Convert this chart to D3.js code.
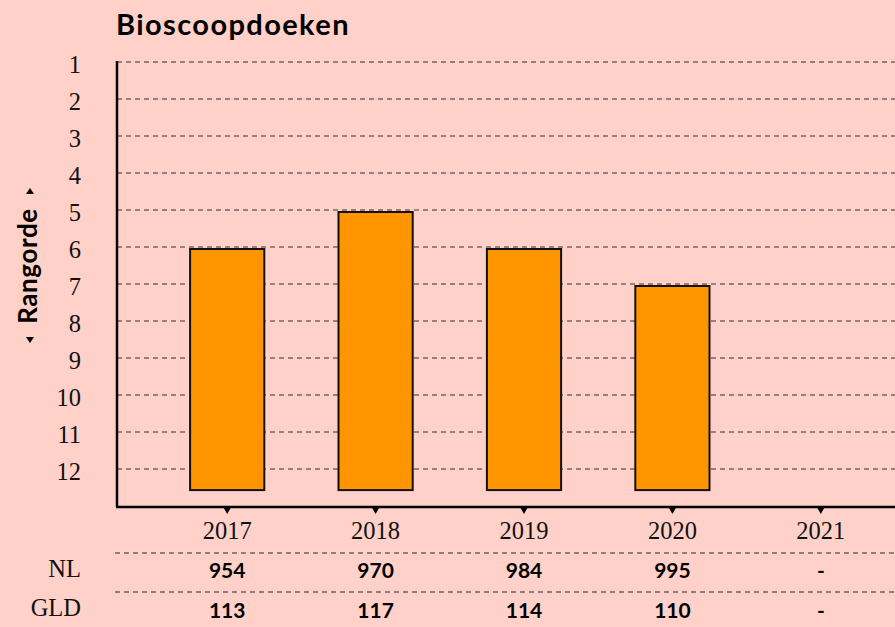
<!DOCTYPE html>
<meta charset="utf-8">
<html>
<head>
<script src="https://d3js.org/d3.v7.min.js"></script>
<style>
  body { margin: 0; background: #ffd1c8; }
  .serif { font-family: "Liberation Serif", "DejaVu Serif", serif; fill: #111; }
  .bold { font-family: Lato, "Noto Sans", sans-serif; font-weight: 700; fill: #000; }
</style>
</head>
<body>
<div id="chart"></div>
<script>
// data
const years = ["2017", "2018", "2019", "2020", "2021"];
const ranks = [6, 5, 6, 7, null];
const rankTicks = [1, 2, 3, 4, 5, 6, 7, 8, 9, 10, 11, 12];
const rowLabels = ["NL", "GLD"];
const nlValues = ["954", "970", "984", "995", "-"];
const gldValues = ["113", "117", "114", "110", "-"];

const W = 895, H = 627;
const svg = d3.select("#chart").append("svg")
  .attr("width", W).attr("height", H);

svg.append("rect").attr("width", W).attr("height", H).attr("fill", "#ffd1c8");

// scales
const x = d3.scaleBand()
  .domain(years)
  .range([153, 895])
  .paddingInner(0.5)
  .paddingOuter(0.25);

const y = d3.scaleLinear()
  .domain([1, 13])
  .range([62, 506]);

const axisLeft = 117;
const barBase = 12.57;

// title
svg.append("text")
  .attr("class", "bold")
  .attr("x", axisLeft - 1)
  .attr("y", 35)
  .attr("font-size", 29)
  .attr("letter-spacing", 1.4)
  .text("Bioscoopdoeken");

// gridlines
svg.append("g")
  .selectAll("line")
  .data(rankTicks)
  .join("line")
    .attr("x1", axisLeft)
    .attr("x2", W)
    .attr("y1", d => y(d))
    .attr("y2", d => y(d))
    .attr("stroke", "#333")
    .attr("stroke-width", 1)
    .attr("stroke-dasharray", "5,4");

// y tick labels
svg.append("g")
  .selectAll("text")
  .data(rankTicks)
  .join("text")
    .attr("class", "serif")
    .attr("x", 81)
    .attr("y", d => y(d))
    .attr("dy", "0.45em")
    .attr("text-anchor", "end")
    .attr("font-size", 24.5)
    .text(d => d);

// bars
const barData = years.map((yr, i) => ({year: yr, rank: ranks[i]})).filter(d => d.rank != null);
svg.append("g")
  .selectAll("rect")
  .data(barData)
  .join("rect")
    .attr("x", d => x(d.year))
    .attr("y", d => y(d.rank) + 2)
    .attr("width", x.bandwidth())
    .attr("height", d => y(barBase) - y(d.rank) - 2)
    .attr("fill", "#ff9500")
    .attr("stroke", "#111")
    .attr("stroke-width", 2);

// axes lines
const axisBottom = y(13) + 1;
svg.append("line")
  .attr("x1", axisLeft).attr("x2", axisLeft)
  .attr("y1", y(1) - 1).attr("y2", axisBottom)
  .attr("stroke", "#000").attr("stroke-width", 2.5);
svg.append("line")
  .attr("x1", axisLeft - 1).attr("x2", W)
  .attr("y1", axisBottom).attr("y2", axisBottom)
  .attr("stroke", "#000").attr("stroke-width", 2.5);

// tick triangles
svg.append("g")
  .selectAll("path")
  .data(years)
  .join("path")
    .attr("d", d => {
      const cx = x(d) + x.bandwidth() / 2;
      return `M${cx - 4},${axisBottom} L${cx + 4},${axisBottom} L${cx},${axisBottom + 7} Z`;
    })
    .attr("fill", "#000");

// x labels
svg.append("g")
  .selectAll("text")
  .data(years)
  .join("text")
    .attr("class", "serif")
    .attr("x", d => x(d) + x.bandwidth() / 2)
    .attr("y", 539)
    .attr("text-anchor", "middle")
    .attr("font-size", 24.5)
    .text(d => d);

// y axis label with arrows
const lbl = svg.append("g").attr("transform", "translate(37,266) rotate(-90)");
lbl.append("text")
  .attr("class", "bold")
  .attr("x", 0)
  .attr("y", 0)
  .attr("text-anchor", "middle")
  .attr("font-size", 26)
  .attr("letter-spacing", 0.6)
  .text("Rangorde");
lbl.append("path").attr("d", "M72,-11 L78,-7 L72,-3 Z").attr("fill", "#000");
lbl.append("path").attr("d", "M-71,-11 L-77,-7 L-71,-3 Z").attr("fill", "#000");

// table
const rows = [nlValues, gldValues];
const labelBase = [577, 616];
const valueBase = [578, 618];
const lineY = [553, 592];
lineY.forEach(ly => {
  svg.append("line")
    .attr("x1", 115).attr("x2", W)
    .attr("y1", ly).attr("y2", ly)
    .attr("stroke", "#666")
    .attr("stroke-width", 1.3)
    .attr("stroke-dasharray", "5,4");
});
rows.forEach((vals, r) => {
  svg.append("text")
    .attr("class", "serif")
    .attr("x", 81)
    .attr("y", labelBase[r])
    .attr("text-anchor", "end")
    .attr("font-size", 24.5)
    .text(rowLabels[r]);
  svg.append("g")
    .selectAll("text")
    .data(vals)
    .join("text")
      .attr("class", "bold")
      .attr("x", (d, i) => x(years[i]) + x.bandwidth() / 2)
      .attr("y", valueBase[r])
      .attr("text-anchor", "middle")
      .attr("font-size", 21)
      .text(d => d);
});
</script>
</body>
</html>
